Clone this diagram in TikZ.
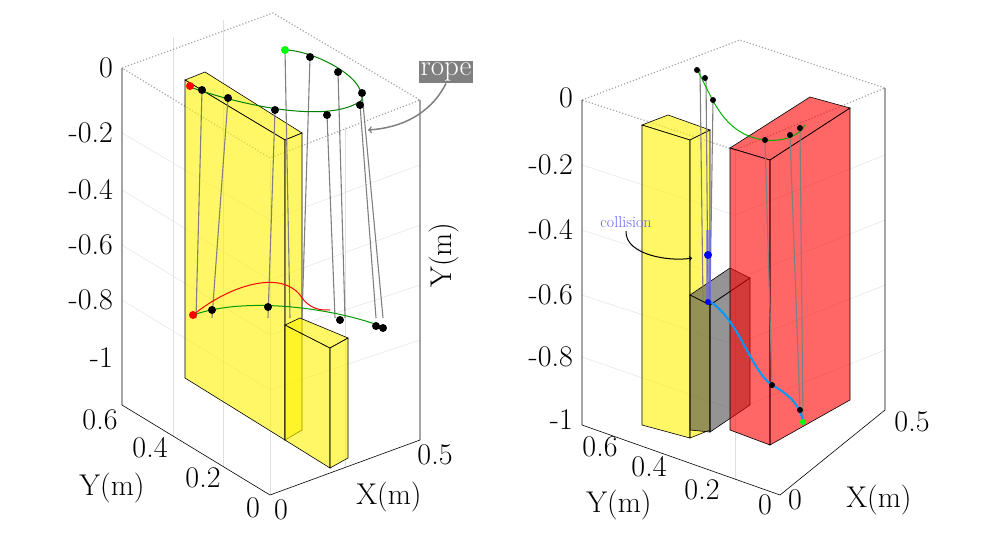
\documentclass[tikz,border=0pt]{standalone}
\usepackage{fontspec}
\usetikzlibrary{positioning}
\tikzset{
  tick/.style={font=\fontsize{30}{34}\selectfont, inner sep=1pt},
  axis/.style={black, line width=0.6pt},
  frame/.style={gray!70, dotted, line width=1.2pt},
  grid/.style={gray!25, line width=0.4pt},
  block/.style={draw=black, line width=0.6pt, fill=yellow, fill opacity=0.6},
  rope/.style={green!50!black, line width=1pt},
  cable/.style={gray, line width=1.1pt},
  pt/.style={circle, fill=black, inner sep=0pt, minimum size=8pt},
}
\begin{document}
\begin{tikzpicture}[x=1pt,y=-1pt]
\useasboundingbox (0,0) rectangle (981,535);

% ---- left plot
\draw[grid] (122,133) -- (270,220) -- (420,165);
\draw[grid] (122,190) -- (270,280) -- (420,225);
\draw[grid] (122,245) -- (270,335) -- (420,285);
\draw[grid] (122,300) -- (270,390) -- (420,340);
\draw[grid] (270,160) -- (270,495);
\draw[grid] (173,37) -- (173,437); \draw[grid] (223,20) -- (223,467);
\draw[grid] (345,127) -- (345,468);
\draw[frame] (122,68) -- (273,13) -- (420,100) -- (270,158) -- cycle;
\draw[axis] (122,68) -- (122,405) -- (270,495) -- (420,440) -- (420,100);
\foreach \y/\t in {68/0,133/-0.2,190/-0.4,245/-0.6,300/-0.8,358/-1}
  \node[tick, anchor=east] at (114,\y) {\t};
\node[tick] at (100,420) {0.6}; \node[tick] at (150,448) {0.4};
\node[tick] at (203,478) {0.2}; \node[tick] at (253,508) {0};
\node[tick] at (281,510) {0}; \node[tick] at (435,455) {0.5};
\node[tick] at (112,488) {Y(m)}; \node[tick] at (389,497) {X(m)};
\node[tick, rotate=90] at (444,255) {Y(m)};

\fill[block] (185,80) -- (205,72) -- (302,133) -- (285,140) -- cycle;
\fill[block] (185,80) -- (285,140) -- (285,440) -- (185,378) -- cycle;
\fill[block] (285,140) -- (302,133) -- (302,430) -- (285,440) -- cycle;
\fill[block] (285,325) -- (330,348) -- (330,468) -- (285,440) -- cycle;
\fill[block] (285,325) -- (300,318) -- (348,338) -- (330,348) -- cycle;
\fill[block] (330,348) -- (348,338) -- (348,458) -- (330,468) -- cycle;

\foreach \a/\ya/\b in {202/90/196,228/98/212,275/110/268,327/115/335,360/105/376,362/93/383,338/72/345,310/57/302,285/50/290}
  \draw[cable] (\a,\ya) -- (\b,318);
\draw[rope] (190,87) .. controls (240,105) and (330,125) .. (362,100)
  .. controls (365,75) and (310,50) .. (285,50);
\draw[red, line width=1pt] (193,315) .. controls (230,285) and (280,270) .. (300,295) .. controls (310,310) and (320,310) .. (330,310);
\draw[rope, green!60!black] (193,315) .. controls (250,295) and (340,310) .. (383,327);
\foreach \p [count=\i] in {(202,90),(228,98),(275,110),(327,115),(360,105),(362,93),(338,72),(310,57),(212,310),(268,307),(340,320),(376,326),(383,328)}
  \node[pt] (l\i) at \p {};
\node[pt, fill=red] (lr1) at (190,86) {};
\node[pt, fill=red] (lr2) at (193,315) {};
\node[pt, fill=green] (lg1) at (285,50) {};

\node[fill=gray, text=white, font=\fontsize{29}{32}\selectfont, inner sep=2pt] (rope) at (446,72) {rope};
\draw[gray, line width=1.5pt, ->] (rope.south) .. controls (430,115) and (400,128) .. (368,130);

% ---- right plot
\draw[grid] (582,165) -- (735,215) -- (885,155);
\draw[grid] (582,230) -- (735,280) -- (885,220);
\draw[grid] (582,295) -- (735,345) -- (885,285);
\draw[grid] (582,357) -- (735,410) -- (885,350);
\draw[grid] (735,150) -- (735,480);
\draw[frame] (582,100) -- (740,40) -- (885,88) -- (735,150) -- cycle;
\draw[axis] (582,100) -- (582,425) -- (780,495) -- (885,410) -- (885,88);
\foreach \y/\t in {98/0,165/-0.2,230/-0.4,295/-0.6,357/-0.8,420/-1}
  \node[tick, anchor=east] at (574,\y) {\t};
\node[tick] at (600,447) {0.6}; \node[tick] at (649,467) {0.4};
\node[tick] at (702,490) {0.2}; \node[tick] at (765,505) {0};
\node[tick] at (795,500) {0}; \node[tick] at (912,422) {0.5};
\node[tick] at (619,505) {Y(m)}; \node[tick] at (879,500) {X(m)};

\fill[block] (642,125) -- (668,115) -- (710,130) -- (690,140) -- cycle;
\fill[block] (642,125) -- (690,140) -- (690,438) -- (642,425) -- cycle;
\fill[block] (690,140) -- (710,130) -- (710,430) -- (690,438) -- cycle;
\fill[block, fill=black!70] (690,295) -- (730,268) -- (750,278) -- (710,305) -- cycle;
\fill[block, fill=black!70] (690,295) -- (710,305) -- (710,432) -- (690,430) -- cycle;
\fill[block, fill=black!70] (710,305) -- (750,278) -- (750,405) -- (710,432) -- cycle;

\draw[cable] (700,70) -- (703,300); \draw[cable] (706,78) -- (708,300);
\draw[cable] (713,100) -- (710,300);
\fill[block, fill=red] (730,148) -- (810,97) -- (850,108) -- (770,160) -- cycle;
\fill[block, fill=red] (730,148) -- (770,160) -- (770,445) -- (730,430) -- cycle;
\fill[block, fill=red] (770,160) -- (850,108) -- (850,400) -- (770,445) -- cycle;
\draw[cable] (765,140) -- (772,385); \draw[cable] (790,135) -- (800,410);
\draw[cable] (800,130) -- (803,422);

\draw[rope, green!70!black] (697,70) .. controls (710,90) and (720,135) .. (765,140) .. controls (785,142) and (800,135) .. (805,125);
\draw[blue!40!cyan, line width=2pt] (708,300) .. controls (740,320) and (750,370) .. (772,385) .. controls (790,395) and (800,405) .. (803,422);
\draw[blue!60, line width=5pt, opacity=0.6] (708,230) -- (708,300);
\foreach \p [count=\i] in {(697,70),(705,78),(713,100),(765,140),(790,135),(800,128),(772,385),(800,410)}
  \node[pt, minimum size=6pt] (r\i) at \p {};
\node[pt, fill=blue] (rb1) at (708,255) {};
\node[pt, fill=blue, minimum size=6pt] (rb2) at (708,302) {};
\node[pt, fill=green, minimum size=6pt] (rg1) at (803,422) {};
\node[text=blue!60, font=\fontsize{16}{18}\selectfont] (coll) at (626,222) {collision};
\draw[black, line width=1pt, ->] (coll.south) .. controls (625,255) and (670,262) .. (692,258);
\end{tikzpicture}
\end{document}
